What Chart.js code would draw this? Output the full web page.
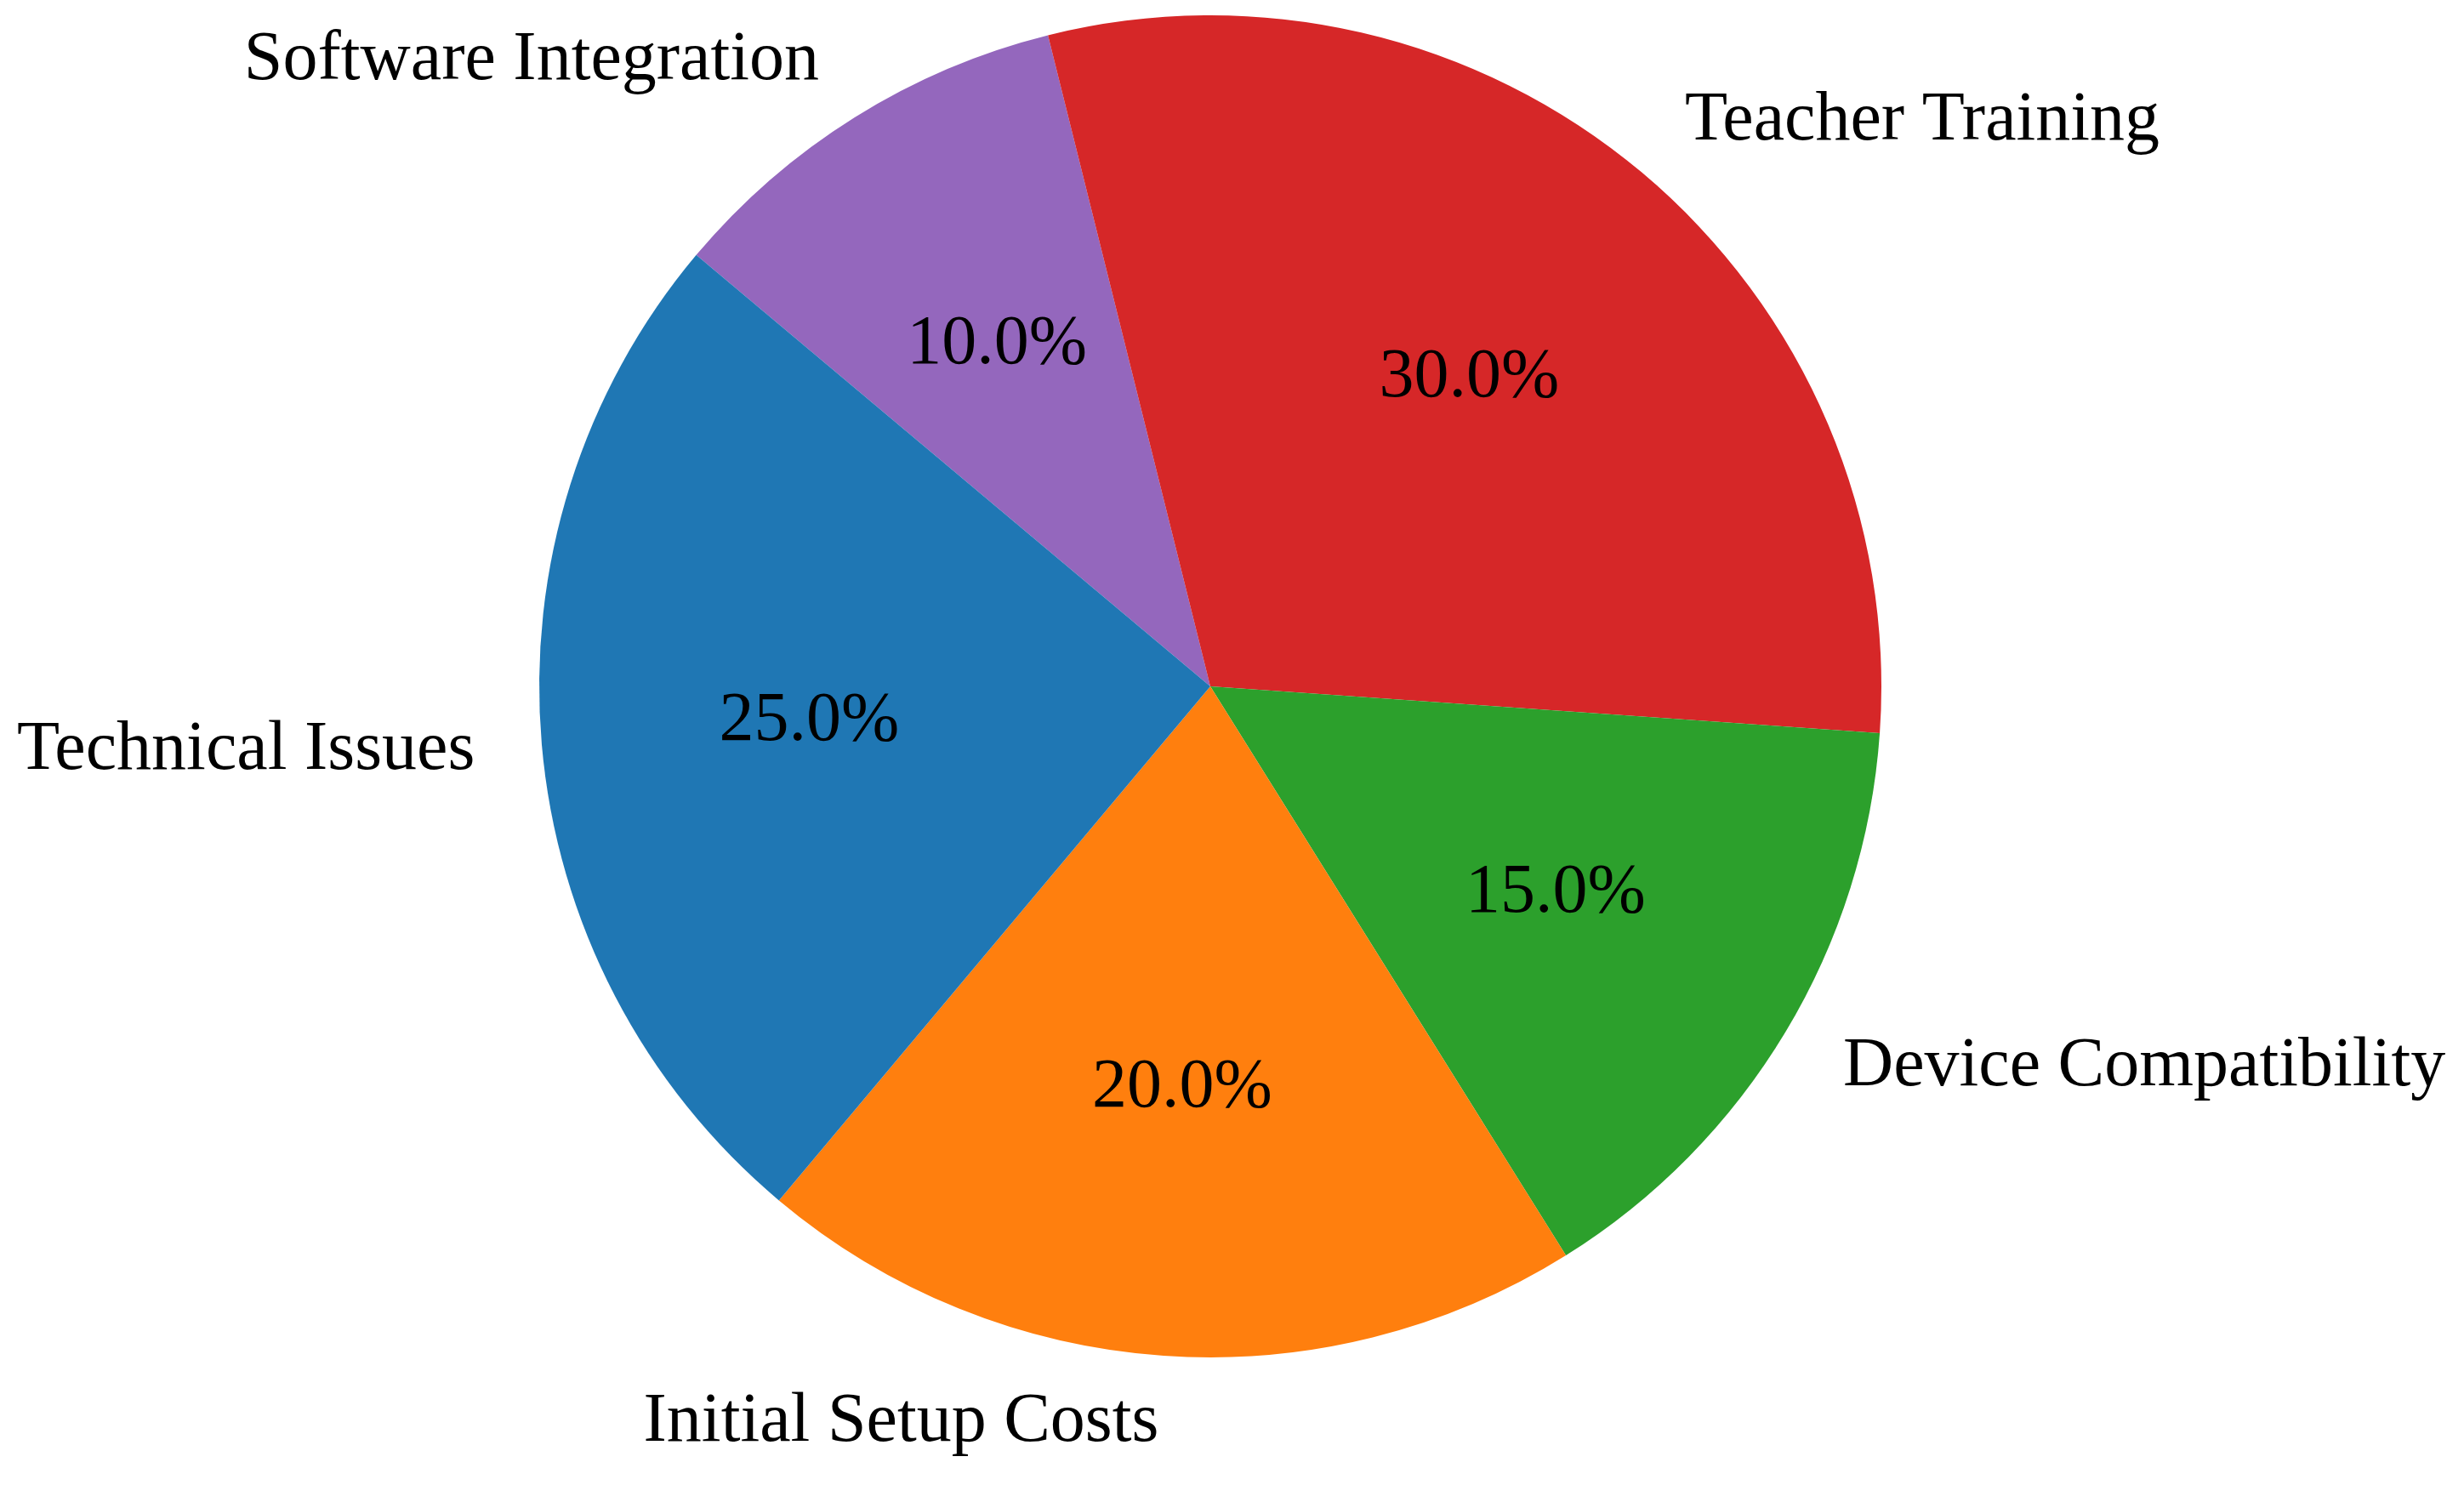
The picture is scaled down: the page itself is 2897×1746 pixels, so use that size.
<!DOCTYPE html>
<html>
<head>
<meta charset="utf-8">
<script src="https://cdn.jsdelivr.net/npm/chart.js@4.4.1/dist/chart.umd.min.js"></script>
<style>
    html, body { margin: 0; padding: 0; background: #ffffff; }
    #wrap { width: 2897px; height: 1746px; position: relative; }
</style>
</head>
<body>
<div id="wrap"><canvas id="pieChart"></canvas></div>
<script>
// slices listed in clockwise drawing order
const categories = ['Software Integration', 'Teacher Training', 'Device Compatibility', 'Initial Setup Costs', 'Technical Issues'];
const shares = [10, 30, 15, 20, 25];
const sliceColors = ['#9467bd', '#d62728', '#2ca02c', '#ff7f0e', '#1f77b4'];

const serif = '"Times New Roman", "Liberation Serif", serif';

const pieLabels = {
    id: 'pieLabels',
    afterDatasetsDraw(chart) {
        const ctx = chart.ctx;
        const meta = chart.getDatasetMeta(0);
        const total = shares.reduce((a, b) => a + b, 0);
        ctx.save();
        ctx.fillStyle = '#000000';
        ctx.font = '82px ' + serif;
        ctx.textBaseline = 'middle';
        meta.data.forEach((arc, i) => {
            const { x, y, startAngle, endAngle, outerRadius } = arc.getProps(['x', 'y', 'startAngle', 'endAngle', 'outerRadius'], true);
            const mid = (startAngle + endAngle) / 2;
            const cos = Math.cos(mid), sin = Math.sin(mid);
            // outer category label
            ctx.textAlign = cos > 0 ? 'left' : 'right';
            ctx.fillText(categories[i], x + cos * outerRadius * 1.1, y + sin * outerRadius * 1.1);
            // percentage inside
            ctx.textAlign = 'center';
            const pct = (shares[i] / total * 100).toFixed(1) + '%';
            ctx.fillText(pct, x + cos * outerRadius * 0.6, y + sin * outerRadius * 0.6);
        });
        ctx.restore();
    }
};

document.addEventListener('DOMContentLoaded', () => {
    const ctx = document.getElementById('pieChart').getContext('2d');
    new Chart(ctx, {
        type: 'pie',
        data: {
            labels: categories,
            datasets: [{
                data: shares,
                backgroundColor: sliceColors,
                borderWidth: 0,
            }]
        },
        options: {
            responsive: true,
            maintainAspectRatio: false,
            animation: false,
            rotation: -50,
            layout: {
                padding: { left: 634, right: 685, top: 18, bottom: 150 }
            },
            plugins: {
                legend: { display: false },
                tooltip: { enabled: false }
            }
        },
        plugins: [pieLabels]
    });
});
</script>
</body>
</html>
